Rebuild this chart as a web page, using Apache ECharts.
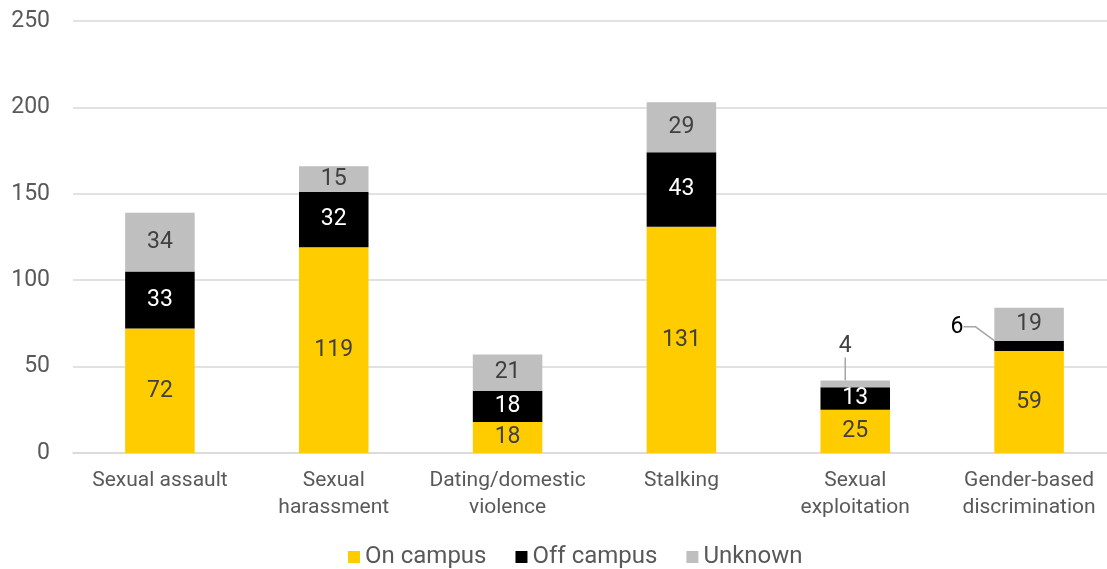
<!DOCTYPE html>
<html>
<head>
<meta charset="utf-8">
<script src="https://cdn.jsdelivr.net/npm/echarts@6/dist/echarts.min.js"></script>
<style>
  html, body { margin: 0; padding: 0; background: #fff; }
  #chart { width: 1107px; height: 569px; }
</style>
</head>
<body>
<div id="chart"></div>
<script>
const categories = ['Sexual assault', 'Sexual\nharassment', 'Dating/domestic\nviolence', 'Stalking', 'Sexual\nexploitation', 'Gender-based\ndiscrimination'];
const onCampus = [72, 119, 18, 131, 25, 59];
const offCampus = [33, 32, 18, 43, 13, 6];
const unknown = [34, 15, 21, 29, 4, 19];
const yTicks = { min: 0, max: 250, interval: 50 };

const font = 'Roboto, "Noto Sans", sans-serif';
const textGray = '#595959';
const dark = '#404040';

const chart = echarts.init(document.getElementById('chart'));

function labelStyle(color) {
  return { show: true, position: 'inside', color: color, fontFamily: font, fontSize: 23 };
}

chart.setOption({
  animation: false,
  grid: { left: 73, width: 1043, top: 21, bottom: 116, containLabel: false, outerBoundsMode: 'none' },
  legend: {
    top: 540,
    left: 343,
    itemWidth: 12,
    itemHeight: 12,
    itemGap: 29,
    itemTextGap: 7,
    icon: 'rect',
    textStyle: { fontFamily: font, fontSize: 24, color: textGray },
    data: ['On campus', 'Off campus', 'Unknown']
  },
  xAxis: {
    type: 'category',
    data: categories,
    axisLine: { lineStyle: { color: '#D9D9D9', width: 1.5 } },
    axisTick: { show: false },
    axisLabel: { fontFamily: font, fontSize: 21, color: textGray, margin: 14, lineHeight: 27, interval: 0 }
  },
  yAxis: {
    type: 'value',
    min: yTicks.min,
    max: yTicks.max,
    interval: yTicks.interval,
    axisLine: { show: false },
    axisTick: { show: false },
    splitLine: { lineStyle: { color: '#D9D9D9', width: 1.5 } },
    axisLabel: { fontFamily: font, fontSize: 23, color: textGray, margin: 23 }
  },
  series: [
    {
      name: 'On campus', type: 'bar', stack: 'total', barWidth: '40%',
      itemStyle: { color: '#FFCC00' },
      label: labelStyle(dark),
      data: onCampus
    },
    {
      name: 'Off campus', type: 'bar', stack: 'total',
      itemStyle: { color: '#000000' },
      label: labelStyle('#ffffff'),
      labelLayout: function (p) {
        if (p.dataIndex === 5) {
          return { dx: -72, dy: -19 };
        }
      },
      labelLine: { show: true, length2: 12, lineStyle: { color: '#A6A6A6', width: 1.5 } },
      data: offCampus.map(function (v, i) {
        if (i === 5) {
          return { value: v, label: { color: '#000000' } };
        }
        return v;
      })
    },
    {
      name: 'Unknown', type: 'bar', stack: 'total',
      itemStyle: { color: '#BFBFBF' },
      label: labelStyle(dark),
      labelLayout: function (p) {
        if (p.dataIndex === 4) {
          return { dx: -10, dy: -38 };
        }
      },
      labelLine: { show: true, lineStyle: { color: '#A6A6A6', width: 1.5 } },
      data: unknown
    }
  ]
});
</script>
</body>
</html>
